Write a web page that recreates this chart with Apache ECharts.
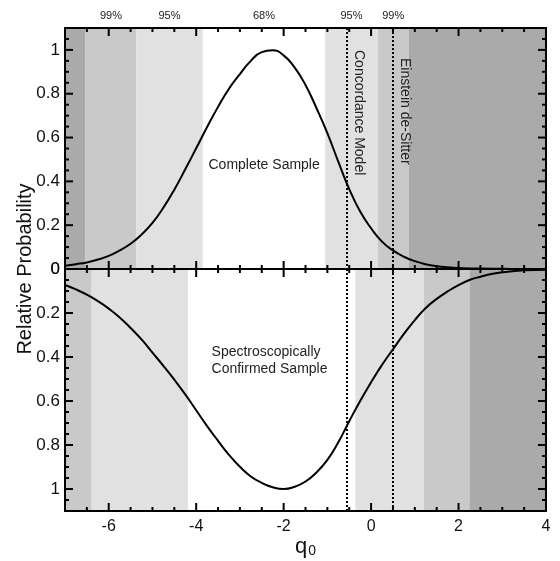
<!DOCTYPE html>
<html>
<head>
<meta charset="utf-8">
<script src="https://cdn.jsdelivr.net/npm/echarts@6/dist/echarts.min.js"></script>
<style>
  html, body { margin: 0; padding: 0; background: #fff; }
  #chart { width: 560px; height: 561px; }
</style>
</head>
<body>
<div id="chart"></div>
<script>
// q0 samples + values
const qTop = [-7, -6.75, -6.5, -6.25, -6, -5.75, -5.5, -5.25, -5, -4.75, -4.5, -4.25, -4, -3.75, -3.5, -3.25, -3, -2.75, -2.5, -2.25, -2, -1.75, -1.5, -1.25, -1, -0.75, -0.5, -0.25, 0, 0.25, 0.5, 0.75, 1, 1.25, 1.5, 1.75, 2, 2.5, 3, 3.5, 4]
const probTop = [0.015, 0.022, 0.03, 0.043, 0.06, 0.085, 0.115, 0.157, 0.21, 0.28, 0.362, 0.455, 0.551, 0.648, 0.74, 0.823, 0.89, 0.95, 0.99, 0.998, 0.975, 0.92, 0.84, 0.735, 0.62, 0.49, 0.365, 0.262, 0.186, 0.125, 0.085, 0.056, 0.036, 0.022, 0.013, 0.008, 0.005, 0.002, 0.001, 0, 0]
const qBottom = [-7, -6.75, -6.5, -6.25, -6, -5.75, -5.5, -5.25, -5, -4.75, -4.5, -4.25, -4, -3.75, -3.5, -3.25, -3, -2.75, -2.5, -2.25, -2, -1.75, -1.5, -1.25, -1, -0.75, -0.5, -0.25, 0, 0.25, 0.5, 0.75, 1, 1.25, 1.5, 1.75, 2, 2.25, 2.5, 2.75, 3, 3.5, 4]
const probBottom = [0.073, 0.093, 0.117, 0.146, 0.18, 0.22, 0.268, 0.32, 0.38, 0.44, 0.503, 0.57, 0.642, 0.714, 0.781, 0.845, 0.899, 0.943, 0.972, 0.992, 1.0, 0.99, 0.966, 0.925, 0.868, 0.788, 0.692, 0.6, 0.515, 0.436, 0.365, 0.295, 0.232, 0.177, 0.136, 0.102, 0.073, 0.05, 0.035, 0.023, 0.015, 0.006, 0.003]

// confidence bands (edges in q0, level per band; 100 = outside 99%)
const topBandEdges = [-7, -6.53, -5.37, -3.85, -1.05, 0.15, 0.86, 4]
const topBandLevels = [100, 99, 95, 68, 95, 99, 100]
const bottomBandEdges = [-7, -6.39, -4.19, -0.36, 1.21, 2.25, 4]
const bottomBandLevels = [99, 95, 68, 95, 99, 100]

// cosmological models
const modelNames = ['Concordance Model', 'Einstein de-Sitter']
const modelQ0 = [-0.55, 0.5]

// panel captions, anchored at [q0, probability]
const topCaption = 'Complete Sample'
const topCaptionAt = [-3.73, 0.475]
const bottomCaption = 'Spectroscopically\nConfirmed Sample'
const bottomCaptionAt = [-3.66, 0.418]

// ticks
const xMajorTicks = [-6, -4, -2, 0, 2, 4]
const xMinorTicks = [-6.5, -5.5, -5, -4.5, -3.5, -3, -2.5, -1.5, -1, -0.5, 0.5, 1, 1.5, 2.5, 3, 3.5]
const yMajorTicks = [0, 0.2, 0.4, 0.6, 0.8, 1]
const yMinorTicks = [0.05, 0.1, 0.15, 0.25, 0.3, 0.35, 0.45, 0.5, 0.55, 0.65, 0.7, 0.75, 0.85, 0.9, 0.95, 1.05]

const FONT = "'Liberation Sans', Arial, Helvetica, sans-serif"
const GRID_LEFT = 65
const GRID_TOP = 28
const PANEL_H = 241
const X_MIN = -7
const X_MAX = 4
const Y_MAX = 1.1
const shade = { 100: '#aaaaaa', 99: '#c9c9c9', 95: '#e1e1e1', 68: 'rgba(255,255,255,0)' }

function zip (xs, ys) {
  return xs.map((x, i) => [x, ys[i]])
}

function bands (edges, levels, withLabels) {
  const out = []
  for (let i = 0; i < levels.length; i++) {
    out.push([
      {
        xAxis: edges[i],
        itemStyle: { color: shade[levels[i]] },
        label: {
          show: withLabels && levels[i] < 100,
          formatter: levels[i] + '%',
          position: 'top',
          distance: 7,
          fontFamily: FONT,
          fontSize: 11,
          color: '#222'
        }
      },
      { xAxis: edges[i + 1] }
    ])
  }
  return out
}

function caption (text, at) {
  return {
    silent: true,
    zlevel: 1,
    symbol: 'circle',
    symbolSize: 1,
    itemStyle: { color: 'rgba(0,0,0,0)' },
    label: {
      show: true, position: 'right', distance: 0, formatter: '{b}',
      fontFamily: FONT, fontSize: 14, lineHeight: 17, color: '#222'
    },
    data: [{ name: text, coord: at }]
  }
}

// inward ticks on all four sides of a panel: [x, y, kind]
// kind 0 x major, 1 x minor, 2 y major, 3 y minor
const tickData = [].concat(
  xMajorTicks.map(v => [v, 0, 0]), xMinorTicks.map(v => [v, 0, 1]),
  yMajorTicks.map(v => [X_MIN, v, 2]), yMinorTicks.map(v => [X_MIN, v, 3])
)

function renderTick (params, api) {
  const kind = api.value(2)
  const isX = kind < 2
  const v = isX ? api.value(0) : api.value(1)
  const len = (kind === 0 || kind === 2) ? 8 : 4
  const a = isX ? api.coord([v, 0]) : api.coord([X_MIN, v])
  const b = isX ? api.coord([v, Y_MAX]) : api.coord([X_MAX, v])
  const k = isX ? 1 : 0
  const dir = Math.sign(b[k] - a[k])
  const a2 = a.slice()
  const b2 = b.slice()
  a2[k] += dir * len
  b2[k] -= dir * len
  const style = { stroke: '#000', lineWidth: 2 }
  return {
    type: 'group',
    children: [
      { type: 'line', shape: { x1: a[0], y1: a[1], x2: a2[0], y2: a2[1] }, style: style },
      { type: 'line', shape: { x1: b[0], y1: b[1], x2: b2[0], y2: b2[1] }, style: style }
    ]
  }
}

function xAxis (grid, position, labels) {
  return {
    type: 'value', gridIndex: grid, position: position, min: X_MIN, max: X_MAX, zlevel: 1, z: 10,
    splitLine: { show: false },
    axisLine: { show: true, onZero: false, lineStyle: { color: '#000', width: 2 } },
    axisTick: { show: false },
    axisLabel: { show: labels, customValues: xMajorTicks, margin: 8, fontFamily: FONT, fontSize: 16, color: '#111' }
  }
}

function yAxis (grid, position, labels, inverse) {
  return {
    type: 'value', gridIndex: grid, position: position, min: 0, max: Y_MAX, inverse: inverse, zlevel: 1, z: 10,
    splitLine: { show: false },
    axisLine: { show: true, onZero: false, lineStyle: { color: '#000', width: 2 } },
    axisTick: { show: false },
    axisLabel: { show: labels, customValues: yMajorTicks, margin: 5, fontFamily: FONT, fontSize: 17, color: '#111' }
  }
}

const xAxes = [xAxis(0, 'bottom', false), xAxis(0, 'top', false), xAxis(1, 'bottom', true), xAxis(1, 'top', false)]
xAxes[2].name = '{q|q}{s|0}'
xAxes[2].nameLocation = 'middle'
xAxes[2].nameGap = 18
xAxes[2].nameTextStyle = {
  rich: {
    q: { fontFamily: FONT, fontSize: 22, lineHeight: 26, color: '#111', verticalAlign: 'bottom' },
    s: { fontFamily: FONT, fontSize: 14, lineHeight: 14, color: '#111', verticalAlign: 'bottom', padding: [0, 0, 0, 1] }
  }
}
const yAxes = [yAxis(0, 'left', true, false), yAxis(0, 'right', false, false), yAxis(1, 'left', true, true), yAxis(1, 'right', false, true)]

const curveStyle = { color: '#000', width: 2 }
const dotted = { color: '#000', width: 2, type: 'dotted' }

const option = {
  animation: false,
  grid: [
    { left: GRID_LEFT, right: 14, top: GRID_TOP, height: PANEL_H },
    { left: GRID_LEFT, right: 14, top: GRID_TOP + PANEL_H, height: PANEL_H + 1 }
  ],
  xAxis: xAxes,
  yAxis: yAxes,
  graphic: [{
    type: 'text', x: 25, y: GRID_TOP + PANEL_H, rotation: Math.PI / 2, zlevel: 1, z: 20,
    style: {
      text: 'Relative Probability', fontFamily: FONT, fontSize: 20, fill: '#111',
      align: 'center', verticalAlign: 'middle'
    }
  }],
  series: [
    {
      type: 'line', xAxisIndex: 0, yAxisIndex: 0, data: [], zlevel: 0, z: 1, silent: true,
      markArea: { silent: true, zlevel: 0, z: 1, data: bands(topBandEdges, topBandLevels, true) }
    },
    {
      type: 'line', xAxisIndex: 2, yAxisIndex: 2, data: [], zlevel: 0, z: 1, silent: true,
      markArea: { silent: true, zlevel: 0, z: 1, data: bands(bottomBandEdges, bottomBandLevels, false) }
    },
    {
      type: 'custom', xAxisIndex: 0, yAxisIndex: 0, zlevel: 1, z: 6, silent: true,
      dimensions: ['x', 'y', 'kind'], encode: { x: 0, y: 1 },
      renderItem: renderTick, data: tickData
    },
    {
      type: 'custom', xAxisIndex: 2, yAxisIndex: 2, zlevel: 1, z: 6, silent: true,
      dimensions: ['x', 'y', 'kind'], encode: { x: 0, y: 1 },
      renderItem: renderTick, data: tickData
    },
    {
      type: 'line', xAxisIndex: 0, yAxisIndex: 0, zlevel: 1, z: 3,
      data: zip(qTop, probTop), smooth: true, showSymbol: false, lineStyle: curveStyle,
      markPoint: caption(topCaption, topCaptionAt),
      markLine: {
        silent: true, zlevel: 1, symbol: ['none', 'none'], lineStyle: dotted,
        data: modelNames.map((n, i) => [
          {
            name: n, coord: [modelQ0[i], Y_MAX],
            label: {
              show: true, formatter: '{b}', position: 'insideStartTop',
              distance: [i === 0 ? 22 : 30, 5],
              fontFamily: FONT, fontSize: 14, color: '#222'
            }
          },
          { coord: [modelQ0[i], 0] }
        ])
      }
    },
    {
      type: 'line', xAxisIndex: 2, yAxisIndex: 2, zlevel: 1, z: 3,
      data: zip(qBottom, probBottom), smooth: true, showSymbol: false, lineStyle: curveStyle,
      markPoint: caption(bottomCaption, bottomCaptionAt),
      markLine: {
        silent: true, zlevel: 1, symbol: ['none', 'none'], lineStyle: dotted, label: { show: false },
        data: modelQ0.map(q => ({ xAxis: q }))
      }
    }
  ]
}

const chart = echarts.init(document.getElementById('chart'))
chart.setOption(option)
</script>
</body>
</html>
